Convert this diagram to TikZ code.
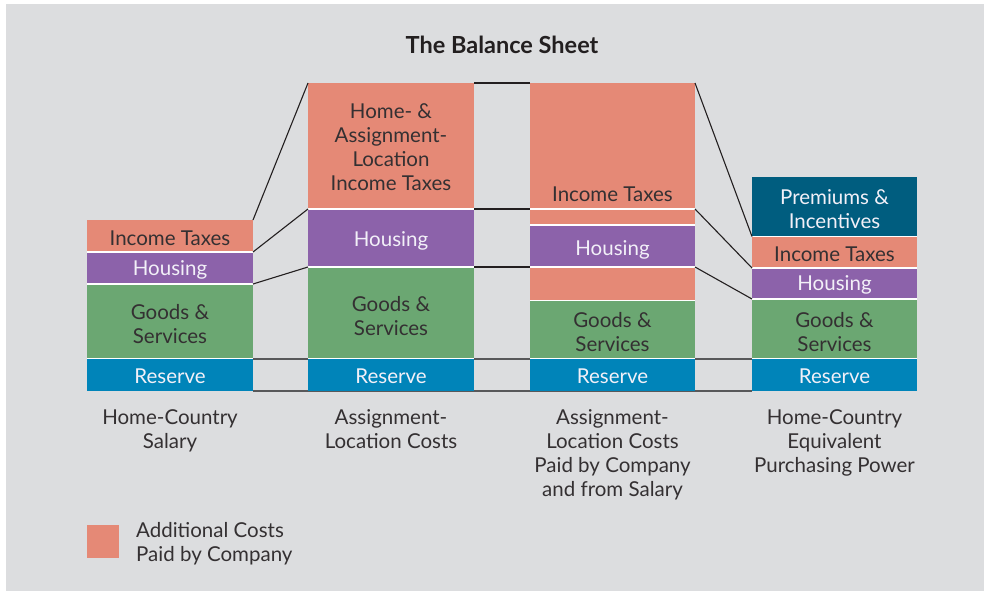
\documentclass[tikz,border=0pt]{standalone}
\usepackage{fontspec}
\setmainfont{Lato}
\usetikzlibrary{calc}
\definecolor{bgpanel}{RGB}{220,221,223}
\definecolor{costorange}{RGB}{229,137,118}
\definecolor{houspurple}{RGB}{140,98,170}
\definecolor{goodsgreen}{RGB}{107,167,114}
\definecolor{resblue}{RGB}{0,132,185}
\definecolor{premteal}{RGB}{0,93,127}
\definecolor{darktext}{RGB}{52,48,50}
\definecolor{lighttext}{RGB}{242,240,248}
\definecolor{linegray}{RGB}{88,88,90}
\definecolor{linedark}{RGB}{35,31,32}
\tikzset{
  seg/.style={rectangle, anchor=north west, inner sep=0pt, outer sep=0pt, draw=none},
  segtxt/.style={inner sep=0pt, align=center, font=\fontsize{20.5}{24}\selectfont},
  darktxt/.style={segtxt, text=darktext},
  lighttxt/.style={segtxt, text=lighttext},
  sepline/.style={draw=white, line width=1.5pt},
  conn/.style={draw=linedark, line width=1.1pt},
  baseconn/.style={draw=linegray, line width=2pt},
  collabel/.style={anchor=north, align=center, text=darktext, font=\fontsize{20.5}{24}\selectfont, inner sep=0pt},
}
\begin{document}
\begin{tikzpicture}[x=1pt,y=-1pt]
\useasboundingbox (0,0) rectangle (984,591);
\fill[white] (0,0) rectangle (984,591);
\fill[bgpanel] (6,4) rectangle (984,591);
\node[font=\fontsize{23.5}{28}\selectfont\bfseries, text=linedark] (title) at (502,45) {The Balance Sheet};

% baseline gray connectors (behind columns)
\coordinate (bl1) at (253,359); \coordinate (br1) at (752,359);
\coordinate (bl2) at (253,390.5); \coordinate (br2) at (752,390.5);
\draw[baseconn] (bl1) -- (br1);
\draw[baseconn] (bl2) -- (br2);

% Column 1
\node[seg, fill=costorange, minimum width=166pt, minimum height=32pt] (a1) at (87,220) {};
\node[seg, fill=houspurple, minimum width=166pt, minimum height=32pt] (a2) at (87,252) {};
\node[seg, fill=goodsgreen, minimum width=166pt, minimum height=74.5pt] (a3) at (87,284) {};
\node[seg, fill=resblue, minimum width=166pt, minimum height=32.5pt] (a4) at (87,358.5) {};

% Column 2
\node[seg, fill=costorange, minimum width=166pt, minimum height=126pt] (b1) at (308,83) {};
\node[seg, fill=houspurple, minimum width=166pt, minimum height=58pt] (b2) at (308,209) {};
\node[seg, fill=goodsgreen, minimum width=166pt, minimum height=91.5pt] (b3) at (308,267) {};
\node[seg, fill=resblue, minimum width=166pt, minimum height=32.5pt] (b4) at (308,358.5) {};

% Column 3
\node[seg, fill=costorange, minimum width=165pt, minimum height=126pt] (c1) at (530,83) {};
\node[seg, fill=costorange, minimum width=165pt, minimum height=16pt] (c2) at (530,209) {};
\node[seg, fill=houspurple, minimum width=165pt, minimum height=42pt] (c3) at (530,225) {};
\node[seg, fill=costorange, minimum width=165pt, minimum height=33.5pt] (c4) at (530,267) {};
\node[seg, fill=goodsgreen, minimum width=165pt, minimum height=58pt] (c5) at (530,300.5) {};
\node[seg, fill=resblue, minimum width=165pt, minimum height=32.5pt] (c6) at (530,358.5) {};

% Column 4
\node[seg, fill=premteal, minimum width=165pt, minimum height=59.5pt] (d1) at (752,177) {};
\node[seg, fill=costorange, minimum width=165pt, minimum height=31.5pt] (d2) at (752,236.5) {};
\node[seg, fill=houspurple, minimum width=165pt, minimum height=31pt] (d3) at (752,268) {};
\node[seg, fill=goodsgreen, minimum width=165pt, minimum height=59.5pt] (d4) at (752,299) {};
\node[seg, fill=resblue, minimum width=165pt, minimum height=32.5pt] (d5) at (752,358.5) {};

% white separators
\foreach \n in {a1,a2,a3,b1,b2,b3,c1,c2,c3,c4,c5,d1,d2,d3,d4}
  \draw[sepline] (\n.south west) -- (\n.south east);

% segment texts
\node[darktxt] (a1t) at ($(a1.center)+(0,2)$) {Income Taxes};
\node[lighttxt] (a2t) at ($(a2.center)+(0,1.5)$) {Housing};
\node[darktxt] (a3t) at ($(a3.center)+(0,2.5)$) {Goods \&\\Services};
\node[lighttxt] (a4t) at ($(a4.center)+(0,1.5)$) {Reserve};
\node[darktxt] (b1t) at ($(b1.center)+(0,1)$) {Home- \&\\Assignment-\\Location\\Income Taxes};
\node[lighttxt] (b2t) at ($(b2.center)+(0,2.5)$) {Housing};
\node[darktxt] (b3t) at ($(b3.center)+(0,3)$) {Goods \&\\Services};
\node[lighttxt] (b4t) at ($(b4.center)+(0,1.5)$) {Reserve};
\node[darktxt] (c1t) at (612.5,194) {Income Taxes};
\node[lighttxt] (c3t) at ($(c3.center)+(0,4)$) {Housing};
\node[darktxt] (c5t) at ($(c5.center)+(0,3)$) {Goods \&\\Services};
\node[lighttxt] (c6t) at ($(c6.center)+(0,1.5)$) {Reserve};
\node[lighttxt] (d1t) at ($(d1.center)+(0,2.5)$) {Premiums \&\\Incentives};
\node[darktxt] (d2t) at ($(d2.center)+(0,2)$) {Income Taxes};
\node[lighttxt] (d3t) at ($(d3.center)+(0,1.5)$) {Housing};
\node[darktxt] (d4t) at ($(d4.center)+(0,3)$) {Goods \&\\Services};
\node[lighttxt] (d5t) at ($(d5.center)+(0,1.5)$) {Reserve};

% connectors
\draw[conn] (a1.north east) -- (b1.north west);
\draw[conn] (a2.north east) -- (b2.north west);
\draw[conn] (a3.north east) -- (b3.north west);
\draw[conn] (b1.north east) -- (c1.north west);
\draw[conn] (b2.north east) -- (c2.north west);
\draw[conn] (b3.north east) -- (c4.north west);
\draw[conn] (c1.north east) -- (d2.north west);
\draw[conn] (c2.north east) -- (d3.north west);
\draw[conn] (c4.north east) -- (d4.north west);

% column labels
\node[collabel] (la) at (170,409) {Home-Country\\Salary};
\node[collabel] (lb) at (391,409) {Assignment-\\Location Costs};
\node[collabel] (lc) at (612.5,409) {Assignment-\\Location Costs\\Paid by Company\\and from Salary};
\node[collabel] (ld) at (834.5,409) {Home-Country\\Equivalent\\Purchasing Power};

% legend
\node[rectangle, fill=costorange, minimum width=32pt, minimum height=33pt, inner sep=0pt, anchor=north west] (leg) at (87,525) {};
\node[anchor=west, align=left, text=darktext, font=\fontsize{20.5}{24}\selectfont, inner sep=0pt] (legtext) at (136,544) {Additional Costs\\Paid by Company};
\end{tikzpicture}
\end{document}
